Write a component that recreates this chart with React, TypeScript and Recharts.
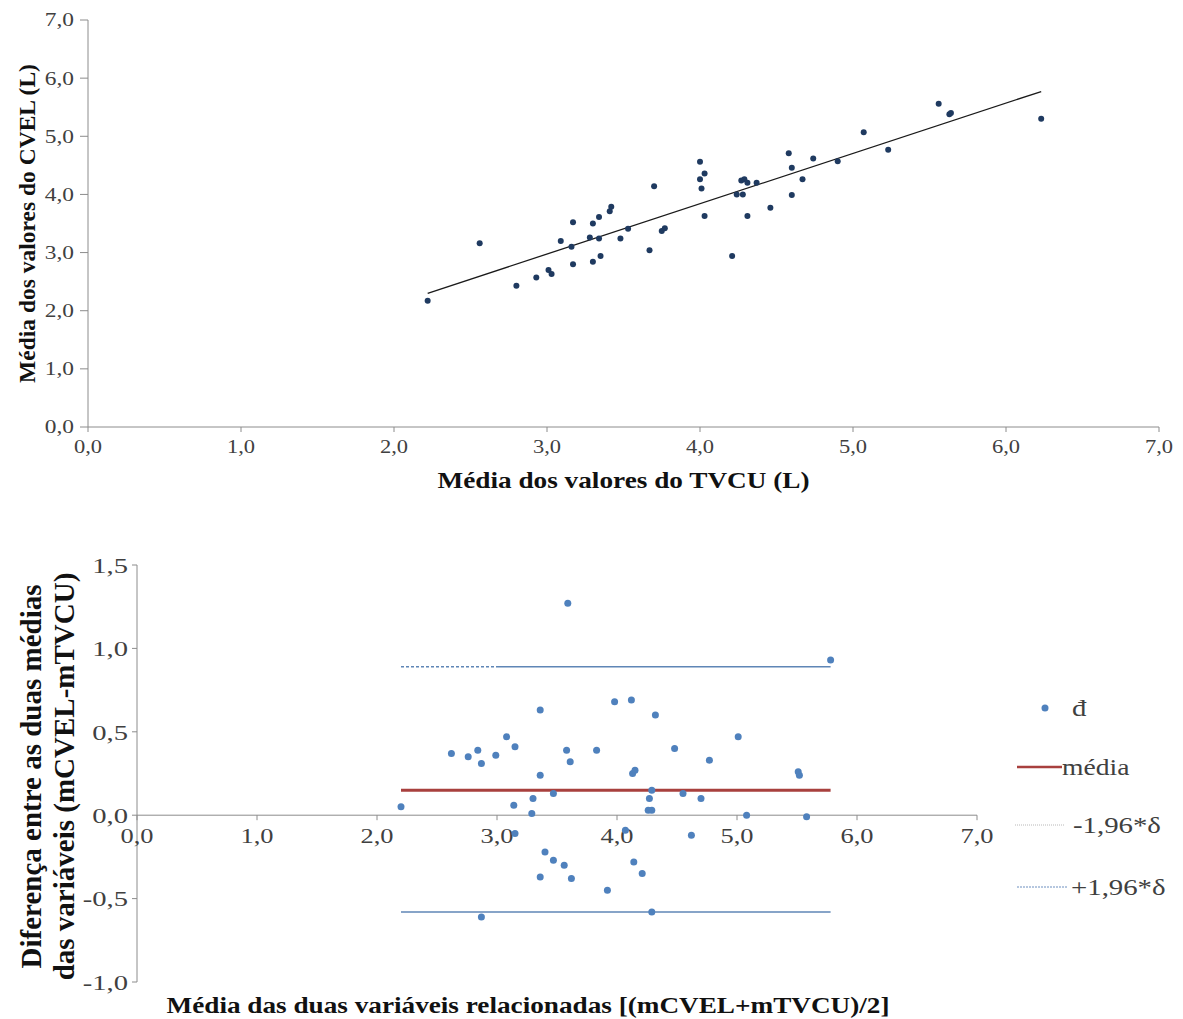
import React from 'react';
import { ScatterChart, Scatter, XAxis, YAxis, ReferenceLine, ReferenceDot, Label, Legend } from 'recharts';

// --- Dispersão: médias TVCU (x) vs CVEL (y) ---
const tvcu = [
  2.22, 2.56, 2.80, 2.93, 3.01, 3.03, 3.09, 3.16, 3.17, 3.17,
  3.28, 3.30, 3.30, 3.34, 3.34, 3.35, 3.41, 3.42, 3.48, 3.53,
  3.67, 3.70, 3.75, 3.77, 4.00, 4.03, 4.00, 4.01, 4.03, 4.21,
  4.24, 4.28, 4.27, 4.29, 4.31, 4.31, 4.37, 4.46, 4.58, 4.60,
  4.60, 4.67, 4.74, 4.90, 5.07, 5.23, 5.56, 5.63, 5.64, 6.23,
];
const cvel = [
  2.17, 3.16, 2.43, 2.57, 2.70, 2.63, 3.20, 3.10, 2.80, 3.52,
  3.26, 3.50, 2.84, 3.61, 3.24, 2.94, 3.71, 3.79, 3.24, 3.41,
  3.04, 4.14, 3.37, 3.42, 4.56, 4.36, 4.26, 4.10, 3.63, 2.94,
  4.00, 4.00, 4.24, 4.26, 4.20, 3.63, 4.20, 3.77, 4.71, 4.46,
  3.99, 4.26, 4.62, 4.57, 5.07, 4.77, 5.56, 5.38, 5.40, 5.30,
];
const trendX = [2.22, 6.23];
const trendY = [2.30, 5.77];
const scatterTicks = [0, 1, 2, 3, 4, 5, 6, 7];

// --- Bland-Altman ---
const pairMean = [
  2.20, 2.62, 2.76, 2.84, 2.87, 2.87, 2.99, 3.08, 3.14, 3.15,
  3.15, 3.29, 3.30, 3.36, 3.36, 3.36, 3.40, 3.47, 3.47, 3.56,
  3.58, 3.59, 3.61, 3.62, 3.83, 3.92, 3.98, 4.07, 4.12, 4.13,
  4.15, 4.14, 4.21, 4.26, 4.27, 4.29, 4.29, 4.29, 4.32, 4.48,
  4.55, 4.62, 4.70, 4.77, 5.01, 5.08, 5.51, 5.52, 5.58, 5.78,
];
const pairDiff = [
  0.05, 0.37, 0.35, 0.39, 0.31, -0.61, 0.36, 0.47, 0.06, 0.41,
  -0.11, 0.01, 0.10, 0.63, 0.24, -0.37, -0.22, 0.13, -0.27, -0.30,
  0.39, 1.27, 0.32, -0.38, 0.39, -0.45, 0.68, -0.09, 0.69, 0.25,
  0.27, -0.28, -0.35, 0.03, 0.10, 0.15, 0.03, -0.58, 0.60, 0.40,
  0.13, -0.12, 0.10, 0.33, 0.47, 0.00, 0.26, 0.24, -0.01, 0.93,
];
const limitX = [2.20, 5.78];
const meanDiff = 0.15;
const upperLimit = 0.89;
const lowerLimit = -0.58;
const diffXTicks = [0, 1, 2, 3, 4, 5, 6, 7];
const diffYTicks = [-1, -0.5, 0, 0.5, 1, 1.5];
const legendLabels = ['đ', 'média', '-1,96*δ', '+1,96*δ'];

const serif = '"Liberation Serif", "DejaVu Serif", "Times New Roman", serif';
const fmt = (v: number) => v.toFixed(1).replace('.', ',');

const scatterData = tvcu.map((x, i) => ({ x, y: cvel[i] }));
const trendData = trendX.map((x, i) => ({ x, y: trendY[i] }));
const diffData = pairMean.map((x, i) => ({ x, y: pairDiff[i] }));
const levelLine = (v: number) => limitX.map((x) => ({ x, y: v }));

const noDot = () => <g />;

// dashed start then solid, like the original upper limit line
const upperDash = Array(19).fill('3 2').join(' ') + ' 2000 0';

// the source picture is stretched sideways, so horizontal text is widened
const WideText = ({ x, y, size, anchor, dy, sx, children, bold }: any) => (
  <g transform={`translate(${x},${y})`}>
    <text
      transform={`scale(${sx},1)`}
      x={0}
      y={0}
      dy={dy}
      textAnchor={anchor}
      fill={bold ? '#111' : '#404040'}
      style={{ fontFamily: serif, fontSize: size, fontWeight: bold ? 'bold' : 'normal' }}
    >
      {children}
    </text>
  </g>
);

const xTick = (size: number, sx: number) => (p: any) => (
  <WideText x={p.x} y={p.y} size={size} anchor="middle" dy="0.71em" sx={sx}>
    {fmt(p.payload.value)}
  </WideText>
);
const yTick = (size: number, sx: number) => (p: any) => (
  <WideText x={p.x} y={p.y} size={size} anchor="end" dy="0.355em" sx={sx}>
    {fmt(p.payload.value)}
  </WideText>
);

const XTickAtZero = (props: any) => {
  const { cx, cy, value } = props;
  return (
    <g>
      <line x1={cx} y1={cy} x2={cx} y2={cy + 5} stroke="#8c8c8c" />
      <WideText x={cx} y={cy + 28} size={22} anchor="middle" dy={0} sx={1.2}>
        {fmt(value)}
      </WideText>
    </g>
  );
};

const BlandLegend = () => (
  <svg width={173} height={230} style={{ overflow: 'visible' }}>
    <circle cx={35} cy={28} r={3.5} fill="#4f81bd" />
    <WideText x={62} y={36} size={24} anchor="start" dy={0} sx={1.2}>{legendLabels[0]}</WideText>

    <line x1={7} y1={87} x2={52} y2={87} stroke="#a8403e" strokeWidth={2.5} />
    <WideText x={52} y={95} size={24} anchor="start" dy={0} sx={1.15}>{legendLabels[1]}</WideText>

    <line x1={5} y1={145} x2={55} y2={145} stroke="#b8b8b8" strokeWidth={1} strokeDasharray="1 1" />
    <WideText x={63} y={153} size={24} anchor="start" dy={0} sx={1.2}>{legendLabels[2]}</WideText>

    <line x1={7} y1={207} x2={58} y2={207} stroke="#6c8fbf" strokeWidth={1} strokeDasharray="2 1" />
    <WideText x={61} y={215} size={24} anchor="start" dy={0} sx={1.2}>{legendLabels[3]}</WideText>
  </svg>
);

const titleStyle = (size: number) => ({ fontFamily: serif, fontSize: size, fontWeight: 'bold' as const });

export default function App() {
  return (
    <div style={{ position: 'absolute', left: 0, top: 0, width: 1183, height: 1019, background: '#fff', fontFamily: serif }}>
      <div style={{ position: 'absolute', left: 0, top: 0 }}>
        <ScatterChart width={1183} height={500} margin={{ top: 20, right: 24, bottom: 0, left: 0 }}>
          <XAxis
            type="number"
            dataKey="x"
            domain={[0, 7]}
            ticks={scatterTicks}
            height={73}
            stroke="#8c8c8c"
            tickSize={5}
            tickMargin={8}
            tick={xTick(18, 1.25)}
          >
            <Label
              content={({ viewBox }: any) => (
                <text
                  x={viewBox.x + viewBox.width / 2}
                  y={viewBox.y + 61}
                  textAnchor="middle"
                  textLength={372}
                  lengthAdjust="spacingAndGlyphs"
                  style={titleStyle(23)}
                  fill="#111"
                >
                  Média dos valores do TVCU (L)
                </text>
              )}
            />
          </XAxis>
          <YAxis
            type="number"
            dataKey="y"
            domain={[0, 7]}
            ticks={scatterTicks}
            width={88}
            stroke="#8c8c8c"
            tickSize={8}
            tickMargin={6}
            tick={yTick(18, 1.3)}
          >
            <Label
              content={({ viewBox }: any) => {
                const cy = viewBox.y + viewBox.height / 2;
                return (
                  <text
                    x={27}
                    y={cy}
                    transform={`rotate(-90 27 ${cy})`}
                    textAnchor="middle"
                    dominantBaseline="central"
                    style={titleStyle(23.5)}
                    fill="#111"
                  >
                    Média dos valores do CVEL (L)
                  </text>
                );
              }}
            />
          </YAxis>
          <Scatter
            data={trendData}
            line={{ stroke: '#1a1a1a', strokeWidth: 1.3 }}
            shape={noDot}
            isAnimationActive={false}
          />
          <Scatter
            data={scatterData}
            fill="#1f3a60"
            shape={(p: any) => <circle cx={p.cx} cy={p.cy} r={3} fill="#1f3a60" />}
            isAnimationActive={false}
          />
        </ScatterChart>
      </div>

      <div style={{ position: 'absolute', left: 0, top: 520 }}>
        <ScatterChart width={1183} height={499} margin={{ top: 45, right: 206, bottom: 0, left: 0 }}>
          <XAxis
            type="number"
            dataKey="x"
            domain={[0, 7]}
            ticks={diffXTicks}
            height={37}
            axisLine={false}
            tick={false}
            tickLine={false}
          >
            <Label
              content={({ viewBox }: any) => (
                <text
                  x={viewBox.x + viewBox.width / 2 - 29}
                  y={viewBox.y + 31}
                  textAnchor="middle"
                  textLength={723}
                  lengthAdjust="spacingAndGlyphs"
                  style={titleStyle(24)}
                  fill="#111"
                >
                  Média das duas variáveis relacionadas [(mCVEL+mTVCU)/2]
                </text>
              )}
            />
          </XAxis>
          <YAxis
            type="number"
            dataKey="y"
            domain={[-1, 1.5]}
            ticks={diffYTicks}
            width={137}
            stroke="#8c8c8c"
            tickSize={5}
            tickMargin={4}
            tick={yTick(22, 1.3)}
          >
            <Label
              content={({ viewBox }: any) => {
                const cy = viewBox.y + viewBox.height / 2 + 3;
                return (
                  <text
                    transform={`rotate(-90 48 ${cy})`}
                    x={48}
                    y={cy}
                    textAnchor="middle"
                    style={titleStyle(29)}
                    fill="#111"
                  >
                    <tspan x={48} dy={-7}>Diferença entre as duas médias</tspan>
                    <tspan x={48} dy={33}>das variáveis (mCVEL-mTVCU)</tspan>
                  </text>
                );
              }}
            />
          </YAxis>
          <ReferenceLine y={0} stroke="#8c8c8c" strokeWidth={1} />
          {diffXTicks.map((t) => (
            <ReferenceDot key={t} x={t} y={0} shape={(p: any) => <XTickAtZero {...p} value={t} />} />
          ))}
          <Scatter
            data={levelLine(upperLimit)}
            line={{ stroke: '#5f86b6', strokeWidth: 1.4, strokeDasharray: upperDash }}
            shape={noDot}
            isAnimationActive={false}
          />
          <Scatter
            data={levelLine(lowerLimit)}
            line={{ stroke: '#5f86b6', strokeWidth: 1.4 }}
            shape={noDot}
            isAnimationActive={false}
          />
          <Scatter
            data={levelLine(meanDiff)}
            line={{ stroke: '#a8403e', strokeWidth: 3 }}
            shape={noDot}
            isAnimationActive={false}
          />
          <Scatter
            data={diffData}
            fill="#4f81bd"
            shape={(p: any) => <circle cx={p.cx} cy={p.cy} r={3.5} fill="#4f81bd" />}
            isAnimationActive={false}
          />
          <Legend
            layout="vertical"
            align="center"
            verticalAlign="middle"
            content={() => <BlandLegend />}
            wrapperStyle={{ left: 1010, top: 160, width: 173, height: 230 }}
          />
        </ScatterChart>
      </div>
    </div>
  );
}
